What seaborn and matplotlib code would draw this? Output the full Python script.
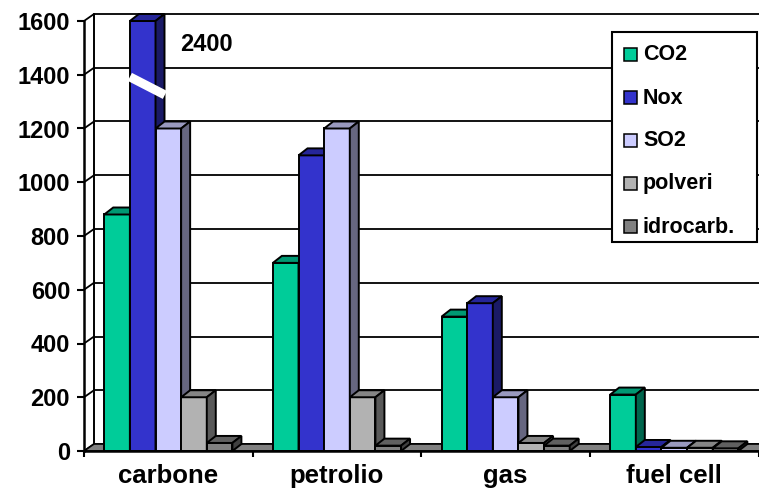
import numpy as np
import pandas as pd
import matplotlib
matplotlib.use("Agg")
import matplotlib.pyplot as plt
from matplotlib.patches import Polygon, Rectangle
import matplotlib.colors as mcolors
import seaborn as sns

# ---- data -------------------------------------------------------------
categories = ["carbone", "petrolio", "gas", "fuel cell"]
series = ["CO2", "Nox", "SO2", "polveri", "idrocarb."]
co2 = [880, 700, 500, 210]
nox = [2400, 1100, 550, 15]
so2 = [1200, 1200, 200, 12]
polveri = [200, 200, 30, 12]
idrocarb = [30, 20, 20, 10]
y_ticks = [0, 200, 400, 600, 800, 1000, 1200, 1400, 1600]
y_max = 1600
colors = ["#00CC99", "#3333CC", "#CCCCFF", "#B2B2B2", "#808080"]

values = [co2, nox, so2, polveri, idrocarb]
rows = []
for s, vals in zip(series, values):
    for c, v in zip(categories, vals):
        rows.append({"categoria": c, "serie": s, "valore": v,
                     "disegnato": min(v, y_max)})
df = pd.DataFrame(rows)

# ---- style ------------------------------------------------------------
sns.set_theme(style="white")
plt.rcParams["font.family"] = ["Liberation Sans", "DejaVu Sans"]
plt.rcParams["font.weight"] = "bold"

W, H = 759, 494
fig = plt.figure(figsize=(W / 100, H / 100), dpi=100)
ax_left, ax_right, ax_bottom, ax_top = 84, 758.6, 451, 21
ax = fig.add_axes([ax_left / W, (H - ax_bottom) / H,
                   (ax_right - ax_left) / W, (ax_bottom - ax_top) / H])

bar_width = 0.76
edge_lw = 1.4
sns.barplot(data=df, x="categoria", y="disegnato", hue="serie",
            order=categories, hue_order=series, palette=colors,
            saturation=1, width=bar_width, gap=0, errorbar=None,
            edgecolor="black", linewidth=edge_lw, legend=False, ax=ax)
bars = sorted([p for p in ax.patches if isinstance(p, Rectangle)],
              key=lambda p: p.get_x())

ax.set_xlim(-0.5, len(categories) - 0.5)
ax.set_ylim(0, y_max)

# pixel -> data conversion for the oblique depth
px_x = (len(categories)) / (ax_right - ax_left)
px_y = y_max / (ax_bottom - ax_top)
dx_wall, dy_wall = 10 * px_x, 7 * px_y
dx_bar, dy_bar = 9 * px_x, 7 * px_y
x0, x1 = -0.5, len(categories) - 0.5

# back wall, side wall and gridlines
for v in y_ticks:
    ax.plot([x0 + dx_wall, x1 + dx_wall + 0.2], [v + dy_wall] * 2,
            color="black", lw=1.3, clip_on=False, zorder=1)
    ax.plot([x0, x0 + dx_wall], [v, v + dy_wall],
            color="black", lw=1.3, clip_on=False, zorder=1)
ax.plot([x0 + dx_wall] * 2, [dy_wall, y_max + dy_wall],
        color="black", lw=1.4, clip_on=False, zorder=1)

# floor
floor = Polygon([(x0, 0), (x1 + 0.1, 0), (x1 + 0.1 + dx_wall, dy_wall), (x0 + dx_wall, dy_wall)],
                closed=True, facecolor="#808080", edgecolor="black", lw=1.2,
                clip_on=False, zorder=2)
ax.add_patch(floor)


def shade(color, f):
    r, g, b = mcolors.to_rgb(color)
    return (r * f, g * f, b * f)


# extrude each bar: top and right faces
for i, p in enumerate(bars):
    x, w, h = p.get_x(), p.get_width(), p.get_height()
    face = p.get_facecolor()
    z = 3 + 3 * i
    p.set_zorder(z)
    p.set_clip_on(False)
    top = Polygon([(x, h), (x + w, h), (x + w + dx_bar, h + dy_bar), (x + dx_bar, h + dy_bar)],
                  closed=True, facecolor=shade(face, 0.75), edgecolor="black",
                  lw=edge_lw, clip_on=False, zorder=z + 1)
    side = Polygon([(x + w, 0), (x + w + dx_bar, dy_bar), (x + w + dx_bar, h + dy_bar), (x + w, h)],
                   closed=True, facecolor=shade(face, 0.5), edgecolor="black",
                   lw=edge_lw, clip_on=False, zorder=z + 2)
    ax.add_patch(top)
    ax.add_patch(side)

# break mark on the clipped Nox bar and its real value
n_series = len(series)
slot = bar_width / n_series
nox_left = 0 - bar_width / 2 + slot * 1
ax.plot([nox_left, nox_left + 35 * px_x], [1392, 1325], color="white",
        lw=6.5, solid_capstyle="butt", clip_on=False, zorder=200)
ax.text(0.069, 1514, f"{nox[0]}", fontsize=17, fontweight="bold",
        ha="left", va="center", color="black", zorder=201)

# axes and ticks
for s in ["top", "right"]:
    ax.spines[s].set_visible(False)
for s in ["left", "bottom"]:
    ax.spines[s].set_linewidth(1.8)
    ax.spines[s].set_color("black")
    ax.spines[s].set_zorder(250)

ax.set_yticks(y_ticks)
ax.set_yticklabels([str(t) for t in y_ticks], fontsize=17, fontweight="bold")
ax.tick_params(axis="y", which="major", left=True, length=5, width=1.5,
               pad=5, direction="out", colors="black")
ax.set_xticks(range(len(categories)))
ax.set_xticklabels(categories, fontsize=18.5, fontweight="bold")
ax.set_xticks(np.arange(-0.5, len(categories)), minor=True)
ax.tick_params(axis="x", which="major", length=0, pad=9, colors="black")
ax.tick_params(axis="x", which="minor", bottom=True, length=4, width=1.5,
               direction="out", colors="black")
ax.set_xlabel("")
ax.set_ylabel("")
ax.grid(False)
ax.patch.set_alpha(0)


# legend box
def fx(px):
    return px / W


def fy(py):
    return 1 - py / H


fig.patches.append(Rectangle((fx(612), fy(242)), fx(757) - fx(612), fy(32) - fy(242),
                             transform=fig.transFigure, facecolor="white",
                             edgecolor="black", lw=1.5, zorder=300))
legend_y = [55, 98, 141, 184, 227]
for name, col, yy in zip(series, colors, legend_y):
    fig.patches.append(Rectangle((fx(624), fy(yy + 6.5)), fx(637) - fx(624), fy(yy - 6.5) - fy(yy + 6.5),
                                 transform=fig.transFigure, facecolor=col,
                                 edgecolor="black", lw=1.1, zorder=301))
    fig.text(fx(643), fy(yy), name, fontsize=15.5, fontweight="bold",
             ha="left", va="center", color="black", zorder=302)

fig.savefig("out.png", dpi=100, facecolor="white")
